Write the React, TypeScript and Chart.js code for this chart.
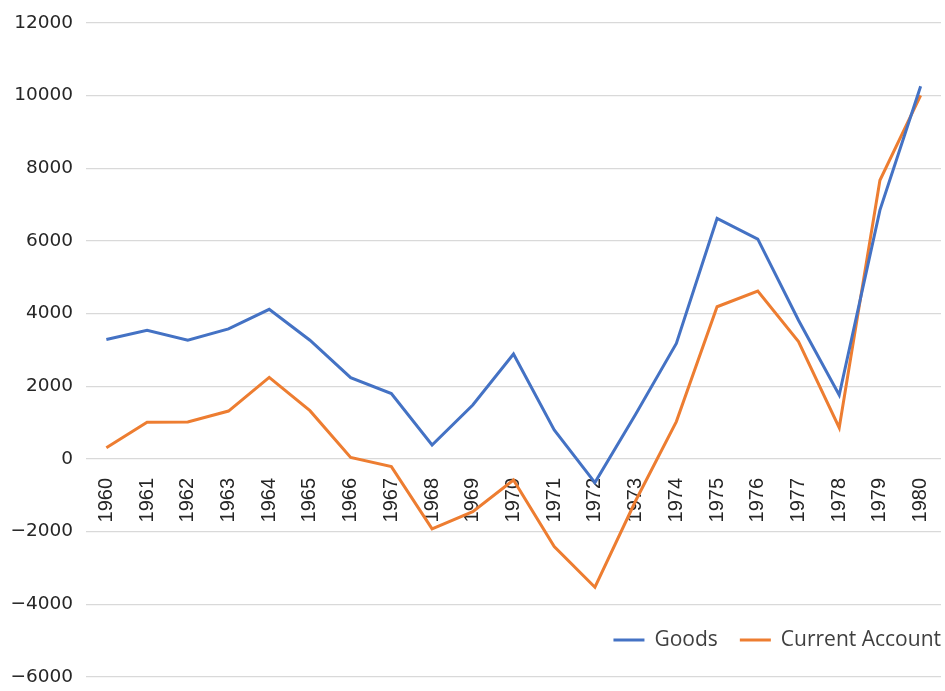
import React, { useEffect, useRef } from "react";
import { Chart, registerables } from "chart.js";

Chart.register(...registerables);

const years = [
  "1960", "1961", "1962", "1963", "1964", "1965", "1966", "1967", "1968", "1969", "1970",
  "1971", "1972", "1973", "1974", "1975", "1976", "1977", "1978", "1979", "1980",
];
const goods = [
  3290, 3540, 3270, 3580, 4120, 3270, 2240, 1800, 385, 1485, 2890,
  800, -650, 1230, 3180, 6620, 6050, 3820, 1760, 6850, 10260,
];
const currentAccount = [
  310, 1010, 1020, 1320, 2245, 1330, 45, -210, -1925, -1450, -580,
  -2410, -3530, -1150, 1030, 4190, 4620, 3230, 860, 7670, 10010,
];
const seriesNames = ["Goods", "Current Account"];
const seriesColors = ["#4472C4", "#ED7D31"];
const yMin = -6000;
const yMax = 12000;
const yStep = 2000;

const legendPlugin = {
  id: "cornerLegend",
  afterDraw(chart: any) {
    const { ctx, chartArea } = chart;
    const font = "21px 'Open Sans'";
    ctx.save();
    ctx.font = font;
    ctx.textBaseline = "middle";
    const lineW = 31;
    const gapLineText = 10;
    const gapItems = 22;
    const items = chart.data.datasets.map((d: any) => ({
      label: d.label,
      color: d.borderColor,
      w: ctx.measureText(d.label).width,
    }));
    let total = 0;
    items.forEach((it: any, i: number) => {
      total += lineW + gapLineText + it.w + (i > 0 ? gapItems : 0);
    });
    let x = chartArea.right - total;
    const y = 640;
    items.forEach((it: any, i: number) => {
      if (i > 0) x += gapItems;
      ctx.strokeStyle = it.color;
      ctx.lineWidth = 3;
      ctx.beginPath();
      ctx.moveTo(x, y);
      ctx.lineTo(x + lineW, y);
      ctx.stroke();
      x += lineW + gapLineText;
      ctx.fillStyle = "#404040";
      ctx.textAlign = "left";
      ctx.fillText(it.label, x, y);
      x += it.w;
    });
    ctx.restore();
  },
};

export default function App() {
  const ref = useRef<HTMLCanvasElement | null>(null);
  useEffect(() => {
    if (!ref.current) return;
    const chart = new Chart(ref.current, {
      type: "line",
      data: {
        labels: years,
        datasets: [
          {
            label: seriesNames[0],
            data: goods,
            borderColor: seriesColors[0],
            backgroundColor: seriesColors[0],
            borderWidth: 3,
            pointRadius: 0,
            tension: 0,
          },
          {
            label: seriesNames[1],
            data: currentAccount,
            borderColor: seriesColors[1],
            backgroundColor: seriesColors[1],
            borderWidth: 3,
            pointRadius: 0,
            tension: 0,
          },
        ],
      },
      options: {
        animation: false,
        responsive: false,
        layout: { padding: { top: 23, bottom: 14, left: 0, right: 4 } },
        plugins: {
          legend: { display: false },
          tooltip: { enabled: false },
        },
        scales: {
          x: {
            position: { y: 0 } as any,
            offset: true,
            afterFit(scale: any) {
              scale.paddingLeft = 0;
              scale.paddingRight = 0;
              scale.paddingTop = 0;
              scale.paddingBottom = 0;
            },
            grid: { display: false },
            border: { display: false },
            ticks: {
              autoSkip: false,
              minRotation: 90,
              maxRotation: 90,
              padding: 11,
              color: "#262626",
              font: { family: "'Liberation Sans'", size: 20 },
            },
          },
          y: {
            min: yMin,
            max: yMax,
            afterFit(scale: any) {
              scale.width = 86;
              scale.paddingTop = 0;
              scale.paddingBottom = 0;
            },
            ticks: {
              stepSize: yStep,
              padding: 13,
              color: "#262626",
              font: { family: "'DejaVu Sans'", size: 18.5 },
              callback: (v: any) => (Number(v) < 0 ? "\u2212" + Math.abs(Number(v)) : String(v)),
            },
            grid: { color: "#d9d9d9", lineWidth: 1.3, drawTicks: false },
            border: { display: false },
          },
        },
      },
      plugins: [legendPlugin],
    });
    return () => chart.destroy();
  }, []);
  return (
    <div style={{ position: "absolute", left: 0, top: 0, width: 945, height: 691, background: "#fff" }}>
      <canvas ref={ref} width={945} height={691} style={{ width: 945, height: 691 }} />
    </div>
  );
}
